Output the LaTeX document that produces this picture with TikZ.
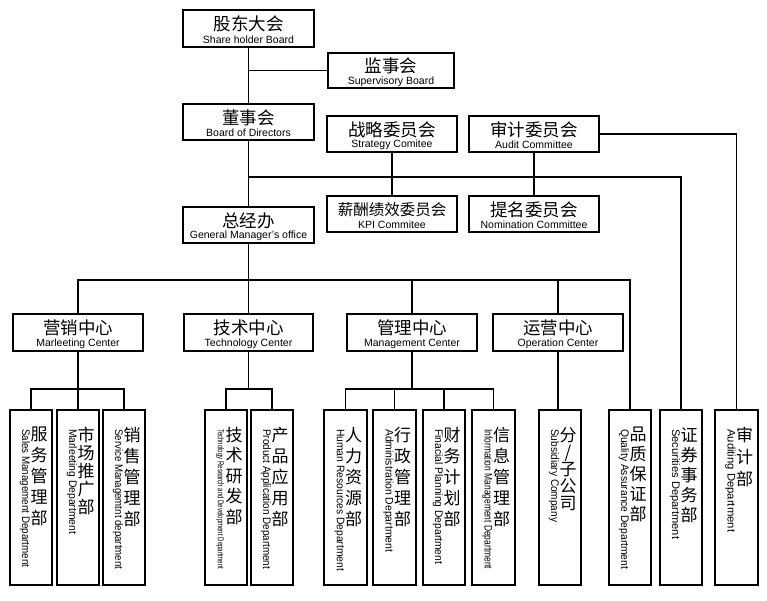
\documentclass[tikz,border=0pt]{standalone}
\usepackage{fontspec}
\usepackage{graphicx}
\setmainfont{Liberation Sans}
\newfontfamily\cjk{Noto Sans CJK SC}
\tikzset{
  obox/.style={draw, line width=1.3pt, inner sep=0pt, fill=white},
  cnt/.style={inner sep=0pt},
  ent/.style={inner sep=0pt, font=\fontsize{10.5}{12}\selectfont},
  vbox/.style={draw, line width=1.3pt, inner sep=0pt, minimum height=175pt},
  vcn/.style={inner sep=0pt, align=center, anchor=north},
  ven/.style={inner sep=0pt, rotate=-90, anchor=west, font=\fontsize{11}{13}\selectfont},
  conn/.style={line width=1.2pt},
}
\newcommand\orgbox[8]{%
  \node[obox, minimum width=#4pt, minimum height=#5pt] (#1) at (#2,#3) {};
  \node[cnt, font=\cjk\fontsize{#8}{#8}\selectfont] (#1c) at (#2,#3-4.5) {#6};
  \node[ent] (#1e) at (#2,#3+11) {#7};}
\newcommand\vdept[7]{%
  \node[vbox, minimum width={#3-#2}] (#1) at ({(#2+#3)/2},497.5) {};
  \node[vcn, font=\cjk\fontsize{17}{#7}\selectfont] (#1c) at ({(#2+#3)/2+8},427) {#4};
  \node[ven] (#1e) at ({(#2+#3)/2-6},429) {\resizebox{#6pt}{\height}{#5}};}
\begin{document}
\begin{tikzpicture}[x=1pt,y=-1pt]
\useasboundingbox (0,0) rectangle (767,601);
% upper boxes
\orgbox{A}{248.5}{28.5}{131}{37}{股东大会}{Share holder Board}{17.5}
\orgbox{B}{391}{70.5}{126}{35}{监事会}{Supervisory Board}{17.5}
\orgbox{C}{248.5}{122}{131}{36}{董事会}{Board of Directors}{17.5}
\orgbox{D}{392}{134}{130}{36}{战略委员会}{Strategy Comitee}{17.5}
\orgbox{E}{534}{134}{130}{36}{审计委员会}{Audit Committee}{17.5}
\orgbox{F}{392}{214}{130}{36}{薪酬绩效委员会}{KPI Commitee}{15.5}
\orgbox{G}{534}{214}{130}{36}{提名委员会}{Nomination Committee}{17.5}
\orgbox{H}{248.5}{225}{131}{36}{总经办}{General Manager's office}{17.5}
\orgbox{M1}{78}{332.5}{130}{37}{营销中心}{Marleeting Center}{17.5}
\orgbox{M2}{248.5}{332.5}{129}{37}{技术中心}{Technology Center}{17.5}
\orgbox{M3}{412}{332.5}{130}{37}{管理中心}{Management Center}{17.5}
\orgbox{M4}{558}{332.5}{130}{37}{运营中心}{Operation Center}{17.5}
% departments
\vdept{b1}{10}{52}{服\\务\\管\\理\\部}{Sales Management Department}{138}{21}
\vdept{b2}{57}{99}{市\\场\\推\\广\\部}{Marleeting Department}{105}{18}
\vdept{b3}{103}{145}{销\\售\\管\\理\\部}{Service Managemtnt department}{140}{21}
\vdept{b4}{205}{247}{技\\术\\研\\发\\部}{{\fontsize{8.5}{9}\selectfont Technology Research and Development Department}}{140}{20.5}
\vdept{b5}{251}{293}{产\\品\\应\\用\\部}{Product Application Department}{140}{21}
\vdept{b6}{324}{367}{人\\力\\资\\源\\部}{Human Resources Department}{142}{21}
\vdept{b7}{373}{416}{行\\政\\管\\理\\部}{Administration Department}{123}{21}
\vdept{b8}{423}{465}{财\\务\\计\\划\\部}{Finacial Planning Department}{135}{21}
\vdept{b9}{472}{515}{信\\息\\管\\理\\部}{Information Management Department}{140}{21}
\vdept{b10}{539}{581}{分\\/\\子\\公\\司}{Subsidiary Company}{93}{17}
\vdept{b11}{609}{651}{品\\质\\保\\证\\部}{Quality Assurance Department}{140}{20}
\vdept{b12}{660}{702}{证\\券\\事\\务\\部}{Securities Department}{110}{20}
\vdept{b13}{715}{758}{审\\计\\部}{Auditing Department}{103}{22}
% buses
\coordinate (busB) at (248.5,177);
\coordinate (busA) at (248.5,280);
\coordinate (m1bus) at (78,389);
\coordinate (m2bus) at (248.5,389);
\coordinate (m3bus) at (412,389);
\begin{scope}[conn]
\draw (A.south) -- (C.north);
\draw (B.west) -- (B.west -| A.south);
\draw (C.south) -- (H.north);
\draw (busB) -| (b12.north);
\draw (E.east) -| (b13.north);
\draw (D.south) -- (F.north);
\draw (E.south) -- (G.north);
\draw (H.south) -- (M2.north);
\draw (M1.north) |- (busA) -| (b11.north);
\draw (M3.north) -- (M3.north |- busA);
\draw (M4.north) -- (M4.north |- busA);
\draw (M1.south) -- (b2.north);
\draw (b1.north) |- (m1bus) -| (b3.north);
\draw (M2.south) -- (m2bus);
\draw (b4.north) |- (m2bus) -| (b5.north);
\draw (M3.south) -- (m3bus);
\draw (b6.north) |- (m3bus) -| (b9.north);
\draw (b7.north) -- (b7.north |- m3bus);
\draw (b8.north) -- (b8.north |- m3bus);
\draw (M4.south) -- (M4.south |- b10.north);
\end{scope}
\end{tikzpicture}
\end{document}
